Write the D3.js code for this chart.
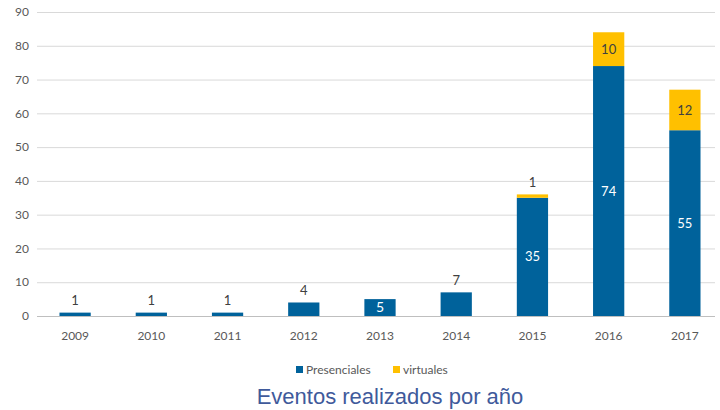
<!DOCTYPE html>
<html>
<head>
<meta charset="utf-8">
<script src="https://cdnjs.cloudflare.com/ajax/libs/d3/7.8.5/d3.min.js"></script>
<style>
  body { margin: 0; background: #fff; }
  svg text { font-family: Lato, "Open Sans", sans-serif; }
</style>
</head>
<body>
<div id="chart"></div>
<script>
// data
const years = ['2009', '2010', '2011', '2012', '2013', '2014', '2015', '2016', '2017'];
const presenciales = [1, 1, 1, 4, 5, 7, 35, 74, 55];
const virtuales = [0, 0, 0, 0, 0, 0, 1, 10, 12];
const yTicks = [0, 10, 20, 30, 40, 50, 60, 70, 80, 90];
const seriesNames = ['Presenciales', 'virtuales'];

const colors = { Presenciales: '#00629b', virtuales: '#ffc000' };

const width = 720, height = 410;
const margin = { top: 12, right: 0, bottom: 94, left: 37 };
const innerW = width - margin.left - margin.right;
const innerH = height - margin.top - margin.bottom;

const svg = d3.select('#chart').append('svg')
  .attr('width', width)
  .attr('height', height);

const g = svg.append('g')
  .attr('transform', `translate(${margin.left},${margin.top})`);

const x = d3.scaleBand()
  .domain(years)
  .range([0, 686])
  .paddingInner(0.59)
  .paddingOuter(0.295);

const y = d3.scaleLinear()
  .domain([0, 90])
  .range([innerH, 0]);

// gridlines
g.selectAll('.grid')
  .data(yTicks)
  .enter().append('line')
  .attr('x1', 0)
  .attr('x2', 678)
  .attr('y1', d => y(d) + 0.5)
  .attr('y2', d => y(d) + 0.5)
  .attr('stroke', d => d === 0 ? '#bfbfbf' : '#d9d9d9')
  .attr('stroke-width', 1);

// y axis labels
g.selectAll('.ylab')
  .data(yTicks)
  .enter().append('text')
  .attr('x', -8)
  .attr('y', d => y(d))
  .attr('dy', '0.35em')
  .attr('text-anchor', 'end')
  .attr('font-size', 12)
  .attr('fill', '#595959')
  .text(d => d);

// x axis labels
g.selectAll('.xlab')
  .data(years)
  .enter().append('text')
  .attr('x', d => x(d) + x.bandwidth() / 2)
  .attr('y', innerH + 24)
  .attr('text-anchor', 'middle')
  .attr('font-size', 12)
  .attr('fill', '#595959')
  .text(d => d);

// stacked data
const rows = years.map((yr, i) => ({ year: yr, Presenciales: presenciales[i], virtuales: virtuales[i] }));
const stack = d3.stack().keys(seriesNames)(rows);

const layers = g.selectAll('.layer')
  .data(stack)
  .enter().append('g')
  .attr('fill', d => colors[d.key]);

layers.selectAll('rect')
  .data(d => d.filter(s => s[1] > s[0]))
  .enter().append('rect')
  .attr('x', d => x(d.data.year))
  .attr('y', d => y(d[1]))
  .attr('width', x.bandwidth())
  .attr('height', d => y(d[0]) - y(d[1]));

// value labels: inside when the segment is tall enough, else on top
const topOf = i => presenciales[i] + virtuales[i];
stack.forEach(layer => {
  layer.forEach((s, i) => {
    const v = s[1] - s[0];
    if (v <= 0) return;
    const segH = y(s[0]) - y(s[1]);
    const cx = x(s.data.year) + x.bandwidth() / 2;
    let inside = segH >= 14 && !(layer.key === 'Presenciales' && v === 7);
    let ty, fill;
    if (inside) {
      ty = (y(s[0]) + y(s[1])) / 2;
      fill = layer.key === 'Presenciales' ? '#ffffff' : '#404040';
    } else {
      ty = y(topOf(i)) - 12;
      fill = '#404040';
    }
    g.append('text')
      .attr('x', cx)
      .attr('y', ty)
      .attr('dy', '0.35em')
      .attr('text-anchor', 'middle')
      .attr('font-size', layer.key === 'Presenciales' && inside && v === 5 ? 14 : 13)
      .attr('fill', fill)
      .text(v);
  });
});

// legend
const legend = svg.append('g').attr('transform', 'translate(296,370)');
const items = [{ name: 'Presenciales', x: 0 }, { name: 'virtuales', x: 97 }];
items.forEach(it => {
  legend.append('rect')
    .attr('x', it.x)
    .attr('y', -4)
    .attr('width', 7)
    .attr('height', 7)
    .attr('fill', colors[it.name]);
  legend.append('text')
    .attr('x', it.x + 10)
    .attr('y', 0)
    .attr('dy', '0.35em')
    .attr('font-size', 12)
    .attr('fill', '#595959')
    .text(it.name);
});

// title
svg.append('text')
  .attr('x', 390)
  .attr('y', 404)
  .attr('text-anchor', 'middle')
  .attr('font-size', 22)
  .attr('fill', '#3f5a9b')
  .style('font-family', '"Liberation Sans", Arial, sans-serif')
  .text('Eventos realizados por año');
</script>
</body>
</html>
